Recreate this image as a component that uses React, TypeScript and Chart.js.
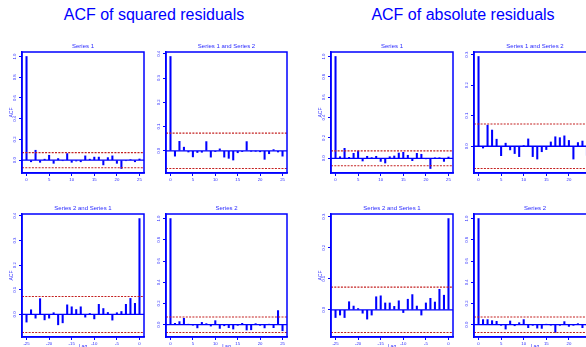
import React, { useEffect, useRef } from "react";
import { Chart, registerables } from "chart.js";
Chart.register(...registerables);

const CLIM = 0.073;
const BLUE = "#0000ff";
const TEXTBLUE = "#2a2aff";
const RED = "#c42020";
const FONT = '"Liberation Sans", Arial, Helvetica, sans-serif';

const lagsPos = [0, 1, 2, 3, 4, 5, 6, 7, 8, 9, 10, 11, 12, 13, 14, 15, 16, 17, 18, 19, 20, 21, 22, 23, 24, 25];
const lagsNeg = [-25, -24, -23, -22, -21, -20, -19, -18, -17, -16, -15, -14, -13, -12, -11, -10, -9, -8, -7, -6, -5, -4, -3, -2, -1, 0];
const xTicksPos = [0, 5, 10, 15, 20, 25];
const xTicksNeg = [-25, -20, -15, -10, -5, 0];
const yTicksUnit = [0, 0.2, 0.4, 0.6, 0.8, 1.0];
const yTicksCross4 = [0, 0.1, 0.2, 0.3, 0.4];
const yTicksCross3 = [0, 0.1, 0.2, 0.3];

// ACF of squared residuals
const sqSeries1 = [1.0, -0.015, 0.096, -0.02, 0.01, 0.048, -0.03, 0.016, -0.005, 0.064, -0.02, -0.008, -0.015, 0.042, 0.01, 0.03, 0.03, -0.045, 0.025, 0.042, -0.03, -0.08, -0.005, 0.005, -0.015, 0.012];
const sqSeries1and2 = [0.389, -0.022, 0.039, 0.015, -0.005, -0.025, -0.007, -0.006, 0.038, -0.026, -0.003, 0.008, -0.026, -0.031, -0.038, -0.008, -0.003, 0.038, -0.001, -0.001, -0.004, -0.035, -0.012, 0.005, -0.005, -0.022];
const sqSeries2and1 = [-0.031, 0.019, -0.015, 0.064, -0.022, -0.015, 0.007, -0.042, -0.034, 0.039, 0.031, 0.02, 0.031, -0.011, 0.004, -0.018, 0.041, 0.024, 0.008, -0.023, 0.007, 0.012, 0.041, 0.065, 0.045, 0.389];
const sqSeries2 = [1.0, 0.013, 0.029, 0.06, 0.003, -0.003, -0.03, 0.022, 0.01, -0.013, 0.038, -0.035, -0.01, -0.028, -0.041, -0.006, 0.013, -0.05, -0.048, 0.01, -0.006, -0.03, 0.003, -0.028, 0.133, -0.057];

// ACF of absolute residuals
const absSeries1 = [1.0, 0.016, 0.098, 0.01, 0.049, 0.072, -0.026, 0.02, 0.007, 0.02, -0.03, -0.046, 0.016, 0.023, 0.052, 0.059, 0.03, -0.023, 0.049, 0.04, -0.003, -0.1, 0.003, 0.006, -0.03, 0.013];
const absSeries1and2 = [0.294, -0.006, 0.069, 0.053, 0.023, -0.031, 0.01, -0.012, -0.024, -0.034, 0.002, 0.024, -0.034, -0.042, -0.018, -0.011, 0.014, 0.031, 0.028, 0.034, 0.019, -0.042, 0.012, 0.017, -0.03, 0.01];
const absSeries2and1 = [-0.025, -0.017, -0.025, 0.026, 0.012, 0.004, -0.011, -0.03, -0.017, 0.042, 0.045, 0.022, 0.022, 0.011, 0.029, -0.009, 0.034, 0.049, 0.012, -0.017, 0.022, 0.037, 0.025, 0.066, 0.047, 0.294];
const absSeries2 = [1.0, 0.048, 0.048, 0.038, 0.032, -0.006, -0.041, 0.035, -0.01, 0.019, 0.048, -0.028, -0.006, -0.032, -0.035, 0.003, -0.003, -0.073, -0.006, 0.029, -0.016, -0.006, 0.01, -0.028, -0.01, 0.02];

const mainTitles = ["ACF of squared residuals", "ACF of absolute residuals"];

type Box = { l: number; t: number; r: number; b: number };
type PanelCfg = {
  title: string;
  lags: number[];
  values: number[];
  xTicks: number[];
  yTicks: number[];
  showACF: boolean;
  showLag: boolean;
  box: Box;
};

const COLS = [
  [22, 144],
  [166, 287],
  [331, 453],
  [474, 596],
];
const ROWS = [
  [52, 173],
  [214, 337],
];
const bx = (c: number, r: number): Box => ({ l: COLS[c][0], r: COLS[c][1], t: ROWS[r][0], b: ROWS[r][1] });

const panels: PanelCfg[] = [
  { title: "Series 1", lags: lagsPos, values: sqSeries1, xTicks: xTicksPos, yTicks: yTicksUnit, showACF: true, showLag: false, box: bx(0, 0) },
  { title: "Series 1 and Series 2", lags: lagsPos, values: sqSeries1and2, xTicks: xTicksPos, yTicks: yTicksCross4, showACF: false, showLag: false, box: bx(1, 0) },
  { title: "Series 2 and Series 1", lags: lagsNeg, values: sqSeries2and1, xTicks: xTicksNeg, yTicks: yTicksCross4, showACF: true, showLag: true, box: bx(0, 1) },
  { title: "Series 2", lags: lagsPos, values: sqSeries2, xTicks: xTicksPos, yTicks: yTicksUnit, showACF: false, showLag: true, box: bx(1, 1) },
  { title: "Series 1", lags: lagsPos, values: absSeries1, xTicks: xTicksPos, yTicks: yTicksUnit, showACF: true, showLag: false, box: bx(2, 0) },
  { title: "Series 1 and Series 2", lags: lagsPos, values: absSeries1and2, xTicks: xTicksPos, yTicks: yTicksCross3, showACF: false, showLag: false, box: bx(3, 0) },
  { title: "Series 2 and Series 1", lags: lagsNeg, values: absSeries2and1, xTicks: xTicksNeg, yTicks: yTicksCross3, showACF: true, showLag: true, box: bx(2, 1) },
  { title: "Series 2", lags: lagsPos, values: absSeries2, xTicks: xTicksPos, yTicks: yTicksUnit, showACF: false, showLag: true, box: bx(3, 1) },
];

const YW = 22; // space left of plot box
const PT = 12; // space above plot box
const PR = 3; // space right of plot box
const XH = 13; // space below plot box

function Panel({ cfg }: { cfg: PanelCfg }) {
  const ref = useRef<HTMLCanvasElement>(null);
  const w = YW + (cfg.box.r - cfg.box.l) + PR;
  const h = PT + (cfg.box.b - cfg.box.t) + XH;

  useEffect(() => {
    if (!ref.current) return;
    const lo = Math.min(-CLIM, ...cfg.values);
    const hi = Math.max(CLIM, ...cfg.values);
    const ymin = lo - 0.04 * (hi - lo);
    const ymax = hi + 0.04 * (hi - lo);
    const x0 = cfg.lags[0];
    const x1 = cfg.lags[cfg.lags.length - 1];
    const xmin = x0 - 0.04 * (x1 - x0);
    const xmax = x1 + 0.04 * (x1 - x0);

    const framePlugin = {
      id: "frame",
      afterDraw(chart: any) {
        const { ctx, chartArea: ca, scales } = chart;
        ctx.save();
        ctx.strokeStyle = BLUE;
        ctx.lineWidth = 1.5;
        ctx.strokeRect(ca.left, ca.top, ca.right - ca.left, ca.bottom - ca.top);
        ctx.fillStyle = TEXTBLUE;
        ctx.textAlign = "center";
        ctx.textBaseline = "middle";
        // panel title
        ctx.font = `6px ${FONT}`;
        ctx.fillText(cfg.title, (ca.left + ca.right) / 2, ca.top - 6);
        // x tick labels
        ctx.font = `4.3px ${FONT}`;
        for (const v of cfg.xTicks) {
          ctx.fillText(String(v), scales.x.getPixelForValue(v), ca.bottom + 6.5);
        }
        // y tick labels (rotated, R style)
        for (const v of cfg.yTicks) {
          const y = scales.y.getPixelForValue(v);
          ctx.save();
          ctx.translate(ca.left - 7, y);
          ctx.rotate(-Math.PI / 2);
          ctx.fillText(v.toFixed(1), 0, 0);
          ctx.restore();
        }
        ctx.font = `5px ${FONT}`;
        if (cfg.showACF) {
          ctx.save();
          ctx.translate(ca.left - 10, (ca.top + ca.bottom) / 2);
          ctx.rotate(-Math.PI / 2);
          ctx.fillText("ACF", 0, 0);
          ctx.restore();
        }
        if (cfg.showLag) {
          ctx.fillText("Lag", (ca.left + ca.right) / 2, ca.bottom + 9.5);
        }
        ctx.restore();
      },
    };

    const hline = (yv: number, color: string, dash: number[], width: number) => ({
      type: "line" as const,
      data: [
        { x: xmin, y: yv },
        { x: xmax, y: yv },
      ],
      borderColor: color,
      borderWidth: width,
      borderDash: dash,
      pointRadius: 0,
      fill: false,
      order: 0,
    });

    const chart = new Chart(ref.current, {
      type: "bar",
      data: {
        datasets: [
          hline(0, BLUE, [], 1.3) as any,
          hline(CLIM, RED, [2, 1.3], 1.1) as any,
          hline(-CLIM, RED, [2, 1.3], 1.1) as any,
          {
            type: "bar",
            data: cfg.lags.map((l, i) => ({ x: l, y: cfg.values[i] })),
            backgroundColor: BLUE,
            borderWidth: 0,
            barThickness: 1.4,
            order: 1,
          } as any,
        ],
      },
      options: {
        animation: false,
        responsive: false,
        maintainAspectRatio: false,
        events: [],
        layout: { padding: { top: PT, right: PR, left: 0, bottom: 0 } },
        plugins: { legend: { display: false }, tooltip: { enabled: false }, title: { display: false } },
        scales: {
          x: {
            type: "linear",
            min: xmin,
            max: xmax,
            offset: false,
            grid: { display: true, drawOnChartArea: false, drawTicks: true, tickLength: 3, color: BLUE, lineWidth: 1, offset: false },
            border: { display: true, color: BLUE, width: 1.5 },
            ticks: { display: false },
            afterBuildTicks: (s: any) => {
              s.ticks = cfg.xTicks.map((v) => ({ value: v }));
            },
            afterFit: (s: any) => {
              s.height = XH;
            },
          },
          y: {
            type: "linear",
            min: ymin,
            max: ymax,
            grid: { display: true, drawOnChartArea: false, drawTicks: true, tickLength: 3, color: BLUE, lineWidth: 1 },
            border: { display: true, color: BLUE, width: 1.5 },
            ticks: { display: false },
            afterBuildTicks: (s: any) => {
              s.ticks = cfg.yTicks.map((v) => ({ value: v }));
            },
            afterFit: (s: any) => {
              s.width = YW;
            },
          },
        },
      } as any,
      plugins: [framePlugin],
    });
    return () => chart.destroy();
  }, []);

  return (
    <canvas
      ref={ref}
      width={w}
      height={h}
      style={{ position: "absolute", left: cfg.box.l - YW, top: cfg.box.t - PT, width: w, height: h }}
    />
  );
}

export default function App() {
  return (
    <div
      style={{
        position: "fixed",
        left: 0,
        top: 0,
        width: 586,
        height: 347,
        overflow: "hidden",
        background: "#ffffff",
      }}
    >
      {mainTitles.map((t, i) => (
        <div
          key={t}
          style={{
            position: "absolute",
            left: i === 0 ? 154 - 120 : 463 - 120,
            width: 240,
            top: 6.5,
            textAlign: "center",
            font: `16px/16px ${FONT}`,
            color: BLUE,
            whiteSpace: "nowrap",
          }}
        >
          {t}
        </div>
      ))}
      {panels.map((p, i) => (
        <Panel key={i} cfg={p} />
      ))}
    </div>
  );
}
